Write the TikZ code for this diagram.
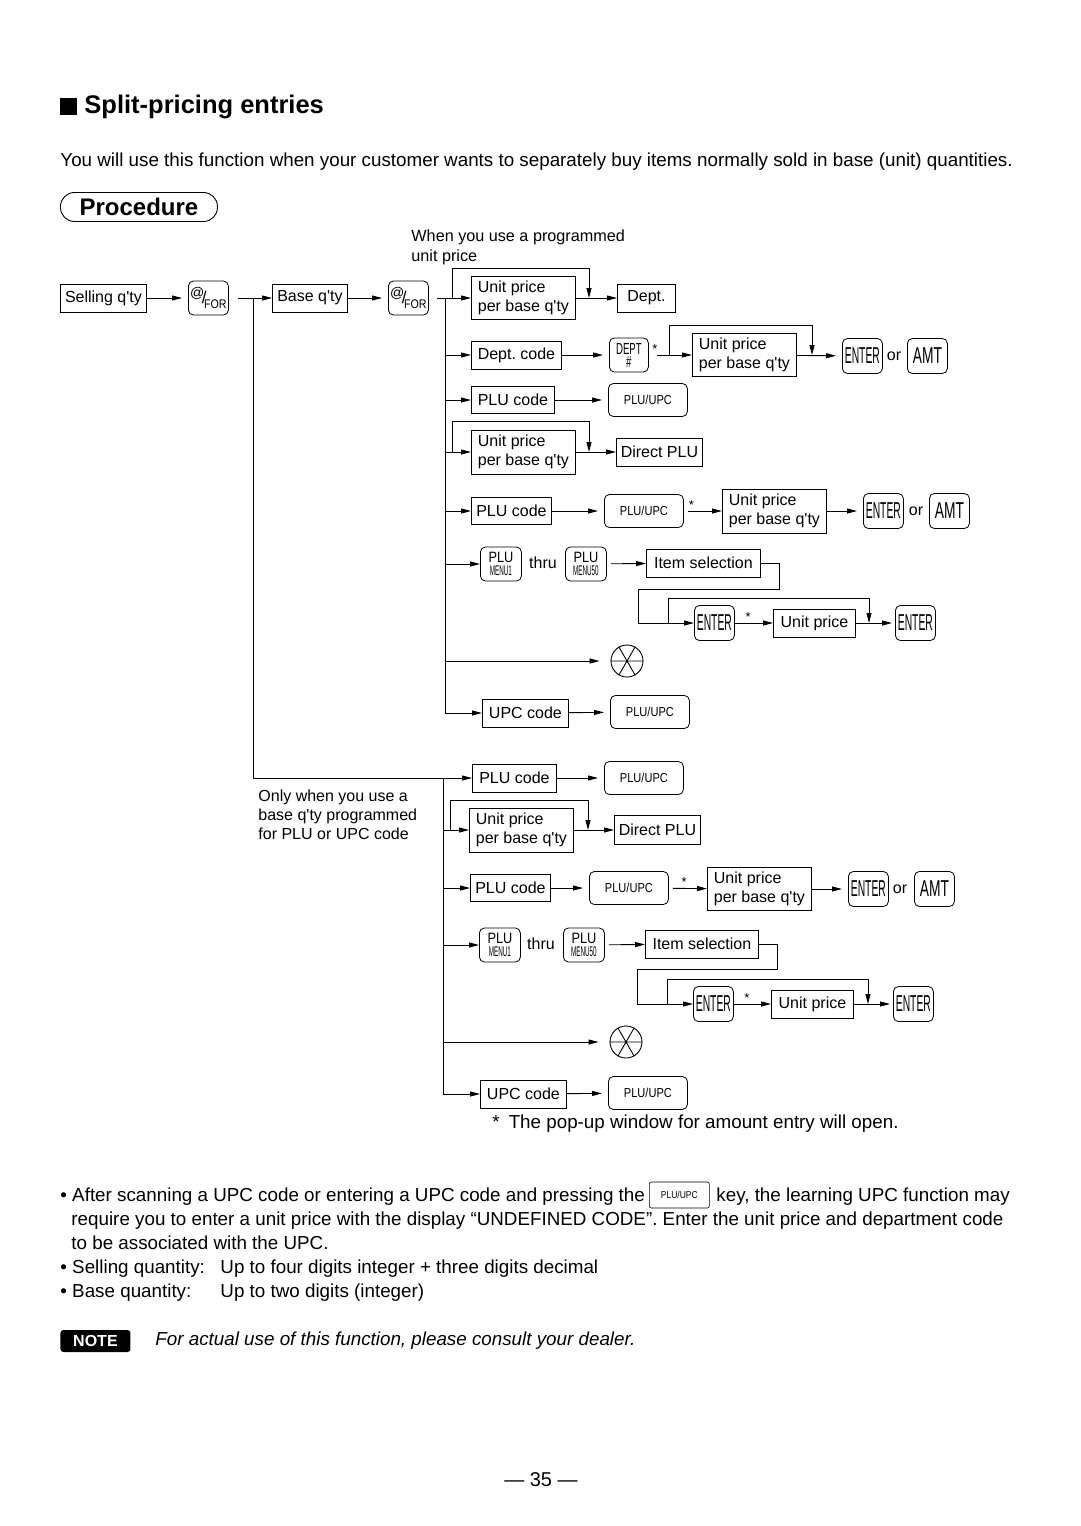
\documentclass[tikz,border=0pt]{standalone}
\usepackage{fontspec}
\setmainfont{Liberation Sans}
\newfontfamily\narrowfont[FakeStretch=0.85]{Liberation Sans}
\newfontfamily\keyfont[FakeStretch=0.6]{Liberation Sans}
\newfontfamily\enterfont[FakeStretch=0.45]{Liberation Sans}
\usepackage{tikz}
\usetikzlibrary{positioning,calc,arrows.meta}
\newcommand\dgfont{\fontsize{16}{19}\selectfont}
\newcommand\txtfont{\fontsize{18.8}{24}\selectfont}
\newcommand\bqty{q\textquotesingle ty}
\newcommand\forlabel{{\fontsize{14}{14}\selectfont\raisebox{5pt}{@}}\kern-2.5pt\raisebox{-1pt}{\fontsize{17}{17}\selectfont/}\kern-2.5pt\raisebox{-6pt}{\narrowfont\fontsize{12.5}{12.5}\selectfont FOR}}
\newcommand\menulabel[1]{PLU\\[1pt]{\enterfont\fontsize{14}{14}\selectfont MENU#1}}

\begin{document}
\begin{tikzpicture}[x=1pt,y=-1pt,line width=0.9pt,
    box/.style={draw,anchor=west,minimum height=28pt,inner xsep=4pt,inner ysep=1pt,font=\dgfont},
    twobox/.style={box,align=left,minimum height=43pt,minimum width=104pt},
    key/.style={draw,anchor=west,rounded corners=5pt,line width=0.8pt,minimum width=40pt,minimum height=34pt,inner sep=1pt,align=center},
    plukey/.style={key,minimum width=79pt,minimum height=33pt,font=\narrowfont\fontsize{13}{13}\selectfont},
    enterkey/.style={key,minimum height=35pt,font=\enterfont\fontsize{23}{23}\selectfont},
    amtkey/.style={key,minimum height=35pt,font=\keyfont\fontsize{23}{23}\selectfont},
    menukey/.style={key,minimum width=41pt,font=\narrowfont\fontsize{15}{12}\selectfont},
    voidkey/.style={draw,circle,minimum size=32pt,inner sep=0pt},
    txt/.style={font=\dgfont,inner sep=0pt},
    line/.style={anchor=base west,inner sep=0pt,font=\txtfont},
    arr/.style={-{Triangle[length=10pt,width=5pt]}},
    star/.style={font=\fontsize{13}{13}\selectfont,inner sep=0pt,above=1pt}]
  \useasboundingbox (0,0) rectangle (1080,1526);

  % heading
  \fill (60,98) rectangle (77,115);
  \node[anchor=west,inner sep=0pt,font=\bfseries\fontsize{25.5}{25.5}\selectfont] (title) at (84,107) {Split-pricing entries};
  \node[line] (intro) at (60,166) {You will use this function when your customer wants to separately buy items normally sold in base (unit) quantities.};
  \node[draw,anchor=west,rounded corners=14pt,minimum width=157pt,minimum height=29pt,inner sep=0pt,font=\bfseries\fontsize{24}{24}\selectfont] (proc) at (60,207) {Procedure};
  \node[anchor=north west,align=left,inner sep=0pt,font=\fontsize{16.2}{20}\selectfont] (prognote) at (411,229) {When you use a programmed\\unit price};

  % first line
  \node[box,minimum width=86pt] (sellq) at (60,298) {Selling \bqty};
  \node[key] (for1) at (188,298) {\forlabel};
  \node[box,minimum width=75pt] (baseq) at (272,298) {Base \bqty};
  \node[key] (for2) at (388,298) {\forlabel};
  \coordinate (tr1) at (253,298);
  \coordinate (tr2) at (445,298);
  \draw[arr,shorten >=6pt] (sellq) -- (for1);
  \draw[arr,shorten <=9pt] (for1) -- (baseq);
  \draw[arr,shorten >=6pt] (baseq) -- (for2);

  % upper branches
  \node[twobox] (up1) at (471,298) {Unit price\\per base \bqty};
  \node[box,minimum width=58pt] (dept1) at (617,298) {Dept.};
  \coordinate (by1) at (452,268);
  \coordinate (by1e) at (589,268);
  \draw[arr,shorten <=8pt] (for2) -- (up1);
  \draw[arr] (by1 |- up1) -- (by1) -- (by1e) -- (by1e |- up1);
  \draw[arr] (up1) -- (dept1);

  \node[box,minimum width=90pt] (deptc) at (471,355) {Dept.\ code};
  \node[key,minimum width=39pt,font=\keyfont\fontsize{16}{13}\selectfont] (deptk) at (609,355) {DEPT\\\#};
  \node[twobox] (up2) at (692,355) {Unit price\\per base \bqty};
  \node[enterkey] (ent1) at (842,356) {ENTER};
  \node[txt] (or1) at (894,356) {or};
  \node[amtkey] (amt1) at (907,356) {AMT};
  \coordinate (by2) at (669,325);
  \coordinate (by2e) at (812,325);
  \draw[arr] (tr2 |- deptc) -- (deptc);
  \draw[arr,shorten >=6pt] (deptc) -- (deptk);
  \draw[arr,shorten <=8pt] (deptk) -- node[star,pos=0.14] {*} (up2);
  \draw[arr] (by2 |- up2) -- (by2) -- (by2e) -- (by2e |- up2);
  \draw[arr,shorten >=6pt] (up2) -- (ent1);

  \node[box,minimum width=83pt,minimum height=27pt] (plu1) at (471,400) {PLU code};
  \node[plukey] (pluk1) at (608,400) {PLU/UPC};
  \draw[arr] (tr2 |- plu1) -- (plu1);
  \draw[arr,shorten >=6pt] (plu1) -- (pluk1);

  \node[twobox,minimum height=44pt] (up3) at (471,452) {Unit price\\per base \bqty};
  \node[box,minimum width=86pt] (dplu1) at (616,452) {Direct PLU};
  \coordinate (by3) at (452,421);
  \coordinate (by3e) at (589,421);
  \draw[arr] (tr2 |- up3) -- (up3);
  \draw[arr] (by3 |- up3) -- (by3) -- (by3e) -- (by3e |- up3);
  \draw[arr] (up3) -- (dplu1);

  \node[box,minimum width=80pt,minimum height=27pt] (plu2) at (471,511) {PLU code};
  \node[plukey] (pluk2) at (604,511) {PLU/UPC};
  \node[twobox,minimum height=44pt] (up4) at (722,511) {Unit price\\per base \bqty};
  \node[enterkey] (ent2) at (863,511) {ENTER};
  \node[txt] (or2) at (916,511) {or};
  \node[amtkey] (amt2) at (929,511) {AMT};
  \draw[arr] (tr2 |- plu2) -- (plu2);
  \draw[arr,shorten >=6pt] (plu2) -- (pluk2);
  \draw[arr,shorten <=4pt] (pluk2) -- node[star,pos=0.2] {*} (up4);
  \draw[arr,shorten >=6pt] (up4) -- (ent2);

  \node[menukey] (m1) at (480,564) {\menulabel{1}};
  \node[txt] (thru1) at (543,563) {thru};
  \node[menukey] (m50) at (565,564) {\menulabel{50}};
  \node[box,minimum width=114pt] (isel1) at (646,563) {Item selection};
  \node[enterkey] (ent3) at (694,623) {ENTER};
  \node[box,minimum width=82pt] (up5) at (773,623) {Unit price};
  \node[enterkey] (ent4) at (895,623) {ENTER};
  \coordinate (rt1) at (779,589);
  \coordinate (rt2) at (638,589);
  \coordinate (by4) at (668,598);
  \coordinate (by4e) at (869,598);
  \draw[arr] (tr2 |- m1) -- (m1);
  \draw[arr,shorten <=4pt] (m50) -- (isel1);
  \draw[arr] (isel1.east) -| (rt1) -- (rt2) |- (ent3);
  \draw[arr] (by4 |- ent3) -- (by4) -- (by4e) -- (by4e |- ent3);
  \draw[arr] (ent3) -- node[star,pos=0.35] {*} (up5);
  \draw[arr,shorten >=3pt] (up5) -- (ent4);

  \node[voidkey] (vd1) at (627,661) {};
  \draw (vd1.west) -- (vd1.east) (vd1.60) -- (vd1.240) (vd1.120) -- (vd1.300);
  \draw[arr,shorten >=11pt] (tr2 |- vd1) -- (vd1);

  \node[box,minimum width=86pt] (upc1) at (482,713) {UPC code};
  \node[plukey] (pluk3) at (610,712) {PLU/UPC};
  \draw[arr] (tr2 |- upc1) -- (upc1);
  \draw[arr,shorten >=6pt] (upc1) -- (pluk3);
  \draw (tr2) -- (tr2 |- upc1);

  % lower branches
  \node[box,minimum width=84pt] (lplu1) at (472,778) {PLU code};
  \node[plukey] (lpk1) at (604,778) {PLU/UPC};
  \coordinate (tr3) at (443,778);
  \draw[arr] (tr1) |- (lplu1);
  \draw[arr,shorten >=6pt] (lplu1) -- (lpk1);
  \node[anchor=north west,align=left,inner sep=0pt,font=\dgfont] (basenote) at (258,789) {Only when you use a\\base \bqty\ programmed\\for PLU or UPC code};

  \node[twobox,minimum height=44pt] (lup1) at (469,830) {Unit price\\per base \bqty};
  \node[box,minimum width=86pt,minimum height=29pt] (ldplu) at (614,830) {Direct PLU};
  \coordinate (by5) at (450,800);
  \coordinate (by5e) at (588,800);
  \draw[arr] (tr3 |- lup1) -- (lup1);
  \draw[arr] (by5 |- lup1) -- (by5) -- (by5e) -- (by5e |- lup1);
  \draw[arr] (lup1) -- (ldplu);

  \node[box,minimum width=80pt,minimum height=27pt] (lplu2) at (470,888) {PLU code};
  \node[plukey] (lpk2) at (589,888) {PLU/UPC};
  \node[twobox] (lup2) at (707,889) {Unit price\\per base \bqty};
  \node[enterkey] (lent1) at (848,889) {ENTER};
  \node[txt] (or3) at (900,889) {or};
  \node[amtkey] (lamt) at (914,889) {AMT};
  \draw[arr] (tr3 |- lplu2) -- (lplu2);
  \draw[arr,shorten >=6pt] (lplu2) -- (lpk2);
  \draw[arr,shorten <=4pt] (lpk2) -- node[star,pos=0.4] {*} (lup2);
  \draw[arr,shorten >=6pt] (lup2) -- (lent1);

  \node[menukey] (lm1) at (479,945) {\menulabel{1}};
  \node[txt] (thru2) at (541,944) {thru};
  \node[menukey] (lm50) at (563,945) {\menulabel{50}};
  \node[box,minimum width=113pt] (lisel) at (645,944) {Item selection};
  \node[enterkey] (lent2) at (693,1004) {ENTER};
  \node[box,minimum width=82pt] (lup3) at (771,1004) {Unit price};
  \node[enterkey] (lent3) at (893,1004) {ENTER};
  \coordinate (lrt1) at (777,969);
  \coordinate (lrt2) at (637,969);
  \coordinate (by6) at (667,979);
  \coordinate (by6e) at (868,979);
  \draw[arr] (tr3 |- lm1) -- (lm1);
  \draw[arr,shorten <=4pt] (lm50) -- (lisel);
  \draw[arr] (lisel.east) -| (lrt1) -- (lrt2) |- (lent2);
  \draw[arr] (by6 |- lent2) -- (by6) -- (by6e) -- (by6e |- lent2);
  \draw[arr] (lent2) -- node[star,pos=0.35] {*} (lup3);
  \draw[arr,shorten >=3pt] (lup3) -- (lent3);

  \node[voidkey] (vd2) at (626,1042) {};
  \draw (vd2.west) -- (vd2.east) (vd2.60) -- (vd2.240) (vd2.120) -- (vd2.300);
  \draw[arr,shorten >=11pt] (tr3 |- vd2) -- (vd2);

  \node[box,minimum width=86pt] (lupc) at (480,1094) {UPC code};
  \node[plukey] (lpk3) at (608,1093) {PLU/UPC};
  \draw[arr] (tr3 |- lupc) -- (lupc);
  \draw[arr,shorten >=6pt] (lupc) -- (lpk3);
  \draw (tr3) -- (tr3 |- lupc);

  \node[line] (popup) at (492,1128) {*\hspace{9pt}The pop-up window for amount entry will open.};

  % notes
  \node[line] (b1a) at (60,1201) {\textbullet\ After scanning a UPC code or entering a UPC code and pressing the};
  \node[draw,anchor=west,line width=0.6pt,rounded corners=2pt,minimum width=60pt,minimum height=26pt,inner sep=0pt,font=\narrowfont\fontsize{10}{10}\selectfont] (b1k) at (649,1195) {PLU/UPC};
  \node[line] (b1b) at (716,1201) {key, the learning UPC function may};
  \node[line] (b1c) at (71,1225) {require you to enter a unit price with the display “UNDEFINED CODE”. Enter the unit price and department code};
  \node[line] (b1d) at (71,1249) {to be associated with the UPC.};
  \node[line] (b2a) at (60,1273) {\textbullet\ Selling quantity:};
  \node[line] (b2b) at (220,1273) {Up to four digits integer + three digits decimal};
  \node[line] (b3a) at (60,1297) {\textbullet\ Base quantity:};
  \node[line] (b3b) at (220,1297) {Up to two digits (integer)};

  \node[fill=black,text=white,anchor=west,rounded corners=3pt,minimum width=70pt,minimum height=22pt,inner sep=0pt,font=\bfseries\fontsize{16}{16}\selectfont] (note) at (60,1341) {NOTE};
  \node[line,font=\itshape\txtfont] (notetxt) at (155,1345) {For actual use of this function, please consult your dealer.};

  \node[inner sep=0pt,font=\fontsize{20}{20}\selectfont] (page) at (541,1480) {— 35 —};
\end{tikzpicture}
\end{document}
